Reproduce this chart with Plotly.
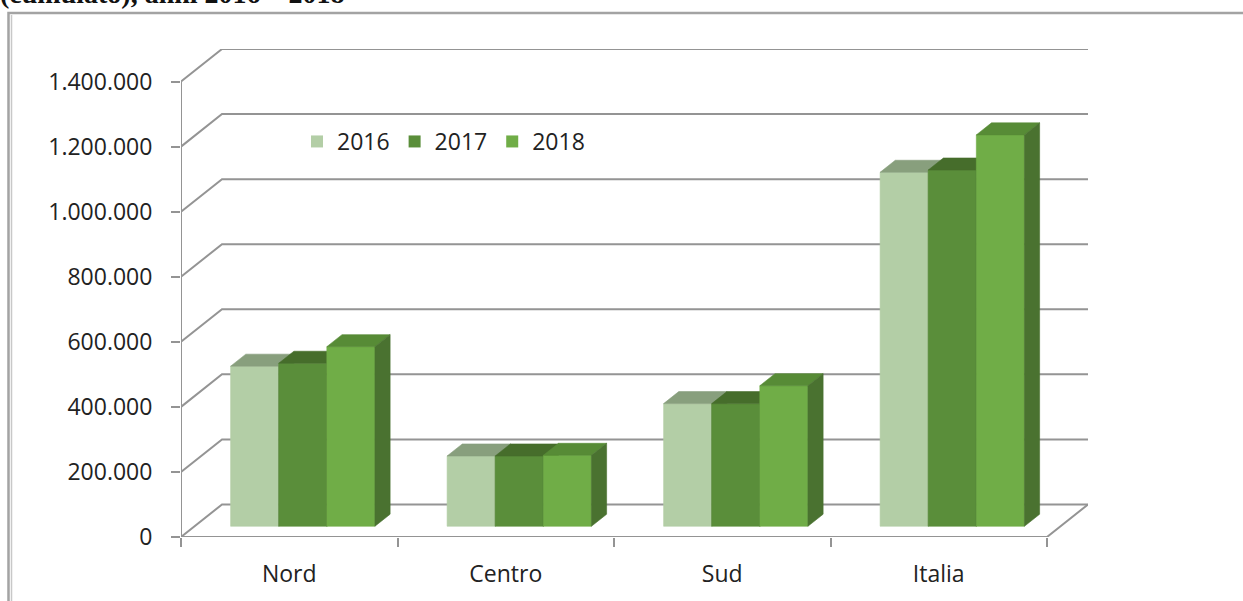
import plotly.graph_objects as go

# ---- data -------------------------------------------------------------
regions = ["Nord", "Centro", "Sud", "Italia"]
years = ["2016", "2017", "2018"]
v2016 = [492000, 216000, 377000, 1088000]
v2017 = [501000, 216000, 377000, 1095000]
v2018 = [552000, 218000, 432000, 1203000]
y_ticks = [0, 200000, 400000, 600000, 800000, 1000000, 1200000, 1400000]

series = [v2016, v2017, v2018]
front_colors = ["#B3CEA6", "#5A8E3A", "#70AD47"]
top_colors = ["#889F7D", "#466D2B", "#578B36"]
side_colors = ["#7F9574", "#40652A", "#4A7230"]
grid_color = "#949494"

# ---- pixel frame of the plotting area --------------------------------
W, H = 1243, 601
L, R, T, B = 181, 155, 49, 64
PW, PH = W - L - R, H - T - B

# oblique projection of the 3-D box (depth offsets in data units)
DEPTH_X = 0.1894        # category units
DEPTH_Y = 100000        # value units
BAR_FRONT, BAR_BACK = 0.33, 0.70
GAP_WIDTH = 0.5
cluster = 1.0 / (1.0 + GAP_WIDTH)
bar_w = cluster / len(series)

X_MAX = len(regions) + DEPTH_X
Y_MAX = y_ticks[-1] + DEPTH_Y


def px_x(p):
    return (p - L) / PW


def px_y(p):
    return (H - B - p) / PH


fig = go.Figure()

# ---- walls: gridlines, front axis, floor -------------------------------
gx, gy = [], []
for v in y_ticks:
    gx += [0, DEPTH_X, len(regions) + DEPTH_X, None]
    gy += [v, v + DEPTH_Y, v + DEPTH_Y, None]
gx += [0, 0, None, 0, len(regions), len(regions) + DEPTH_X]
gy += [0, y_ticks[-1], None, 0, 0, DEPTH_Y]
fig.add_trace(go.Scatter(x=gx, y=gy, mode="lines",
                         line=dict(color=grid_color, width=2),
                         hoverinfo="skip", showlegend=False, cliponaxis=False))

# ---- 3-D columns, painted back-to-front within each cluster ----------
fx, fy = BAR_FRONT * DEPTH_X, BAR_FRONT * DEPTH_Y
dx, dy = (BAR_BACK - BAR_FRONT) * DEPTH_X, (BAR_BACK - BAR_FRONT) * DEPTH_Y

for k, vals in enumerate(series):
    fr_x, fr_y, tp_x, tp_y, sd_x, sd_y = [], [], [], [], [], []
    for i, v in enumerate(vals):
        left = i + 0.5 - cluster / 2 + k * bar_w + fx
        right = left + bar_w
        base, top = fy, fy + v
        fr_x += [left, right, right, left, left, None]
        fr_y += [base, base, top, top, base, None]
        tp_x += [left, right, right + dx, left + dx, left, None]
        tp_y += [top, top, top + dy, top + dy, top, None]
        sd_x += [right, right + dx, right + dx, right, right, None]
        sd_y += [base, base + dy, top + dy, top, base, None]
    for xs, ys, col in ((fr_x, fr_y, front_colors[k]),
                        (tp_x, tp_y, top_colors[k]),
                        (sd_x, sd_y, side_colors[k])):
        fig.add_trace(go.Scatter(x=xs, y=ys, mode="lines", fill="toself",
                                 fillcolor=col, line=dict(color=col, width=0.6),
                                 hoverinfo="skip", showlegend=False,
                                 cliponaxis=False))

# legend keys
for k, name in enumerate(years):
    fig.add_trace(go.Scatter(x=[None], y=[None], mode="markers", name=name,
                             marker=dict(symbol="square", size=12,
                                         color=front_colors[k])))

tick_font = dict(family="Open Sans, Noto Sans, sans-serif", size=23,
                 color="#222222")

fig.update_layout(
    width=W, height=H,
    margin=dict(l=L, r=R, t=T, b=B, pad=0),
    paper_bgcolor="white", plot_bgcolor="white",
    separators=",.",
    showlegend=True,
    legend=dict(orientation="h", x=px_x(297), y=px_y(141.5),
                xanchor="left", yanchor="middle",
                font=tick_font, bgcolor="rgba(0,0,0,0)"),
    xaxis=dict(type="linear", range=[0, X_MAX], showgrid=False,
               zeroline=False, showline=False,
               tickmode="array", tickvals=[i + 0.5 for i in range(len(regions))],
               ticktext=regions, ticks="outside", ticklen=9,
               tickcolor="rgba(0,0,0,0)", ticklabelstandoff=7,
               tickfont=tick_font,
               minor=dict(tickmode="array",
                          tickvals=list(range(len(regions) + 1)),
                          ticks="outside", ticklen=9, tickwidth=1.5,
                          tickcolor=grid_color, showgrid=False)),
    yaxis=dict(range=[0, Y_MAX], showgrid=False, zeroline=False,
               showline=False, tickmode="array", tickvals=y_ticks,
               tickformat=",d", ticks="outside", ticklen=9, tickwidth=1.5,
               tickcolor=grid_color, ticklabelstandoff=14,
               tickfont=tick_font),
)

# outer frame of the chart box
fig.add_shape(type="rect", xref="paper", yref="paper",
              x0=px_x(8.5), y0=px_y(H + 10), x1=px_x(W + 10), y1=px_y(13),
              line=dict(color="#A3A3A3", width=2.5), layer="below")
fig.add_shape(type="line", xref="paper", yref="paper",
              x0=px_x(11.5), y0=px_y(H + 10), x1=px_x(11.5), y1=px_y(15),
              line=dict(color="#C8C8C8", width=1.5), layer="below")

# caption line above the chart box (continues from the page above)
fig.add_annotation(xref="paper", yref="paper", x=px_x(-2), y=px_y(11),
                   xanchor="left", yanchor="bottom", showarrow=False,
                   text="<b>(cumulato), anni 2016 – 2018</b>",
                   font=dict(family="Liberation Serif, serif", size=28,
                             color="#111111"))

fig.write_html("out.html")
